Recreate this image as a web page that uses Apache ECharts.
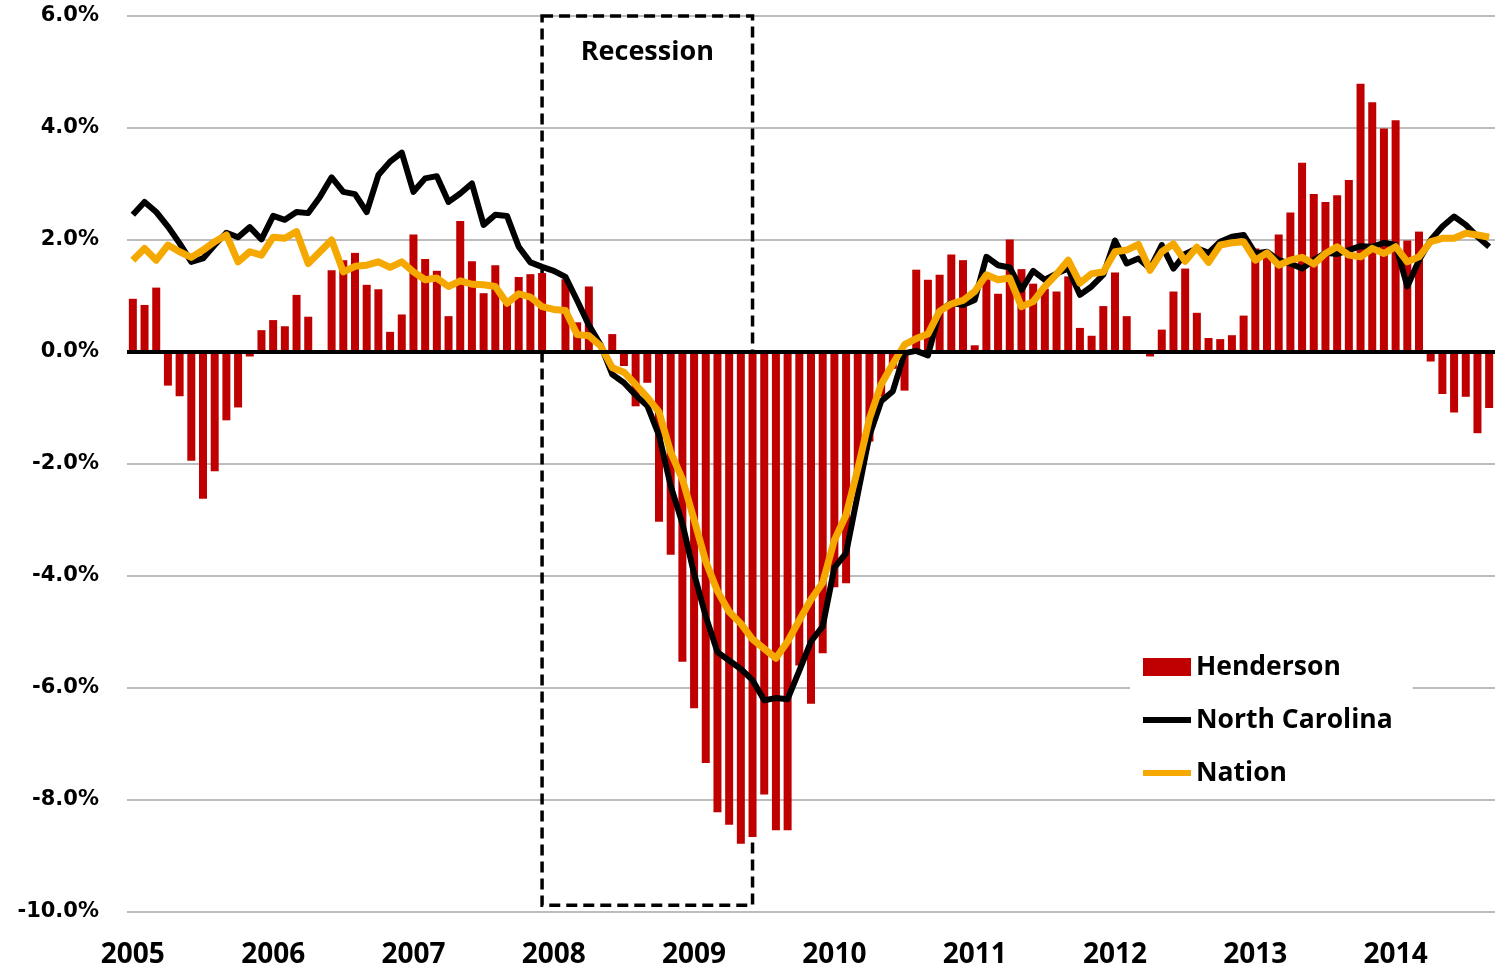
<!DOCTYPE html>
<html>
<head>
<meta charset="utf-8">
<script src="https://cdn.jsdelivr.net/npm/echarts@6/dist/echarts.min.js"></script>
<style>
  html, body { margin: 0; padding: 0; background: #fff; }
  #chart { width: 1495px; height: 973px; }
</style>
</head>
<body>
<div id="chart"></div>
<script>
// year labels on the x axis (one per January)
const years = ['2005', '2006', '2007', '2008', '2009', '2010', '2011', '2012', '2013', '2014'];
const monthCount = 117; // Jan 2005 .. Sep 2014

// monthly categories "YYYY-MM"
const months = [];
for (let i = 0; i < monthCount; i++) {
  const y = years[Math.floor(i / 12)];
  const m = String(i % 12 + 1).padStart(2, '0');
  months.push(y + '-' + m);
}

// recession period (Dec 2007 - Jun 2009)
const recessionStart = '2007-12';
const recessionEnd = '2009-06';

// year-over-year employment growth, %
const henderson = [
  0.95, 0.84, 1.15, -0.6, -0.79, -1.94, -2.62, -2.13, -1.22, -0.99, -0.08, 0.39,
  0.57, 0.46, 1.02, 0.63, 0, 1.46, 1.64, 1.77, 1.2, 1.12, 0.36, 0.67,
  2.10, 1.66, 1.45, 0.64, 2.34, 1.62, 1.05, 1.55, 0.9, 1.34, 1.39, 1.41,
  0, 1.3, 0.53, 1.17, 0, 0.32, -0.25, -0.97, -0.55, -3.03, -3.62, -5.53,
  -6.36, -7.34, -8.22, -8.44, -8.78, -8.66, -7.9, -8.54, -8.54, -5.6, -6.28, -5.38,
  -4.2, -4.13, -2.3, -1.6, -0.8, -0.3, -0.69, 1.47, 1.29, 1.38, 1.74, 1.64,
  0.12, 1.3, 1.04, 2.01, 1.48, 1.22, 1.13, 1.08, 1.35, 0.43, 0.29, 0.82,
  1.42, 0.64, 0, -0.08, 0.4, 1.08, 1.49, 0.7, 0.25, 0.23, 0.30, 0.65,
  1.85, 1.8, 2.10, 2.49, 3.38, 2.82, 2.68, 2.80, 3.07, 4.79, 4.46, 3.99,
  4.14, 1.99, 2.15, -0.17, -0.75, -1.08, -0.8, -1.45, -1.0
];

const northCarolina = [
  2.45, 2.68, 2.5, 2.24, 1.94, 1.61, 1.67, 1.91, 2.13, 2.05, 2.23, 2.01,
  2.43, 2.36, 2.5, 2.48, 2.77, 3.12, 2.86, 2.82, 2.5, 3.16, 3.4, 3.56,
  2.86, 3.1, 3.14, 2.68, 2.83, 3.01, 2.27, 2.45, 2.43, 1.88, 1.6, 1.52,
  1.45, 1.34, 0.92, 0.48, 0.13, -0.4, -0.55, -0.77, -0.96, -1.49, -2.39, -3.06,
  -3.96, -4.72, -5.36, -5.51, -5.66, -5.86, -6.22, -6.18, -6.2, -5.69, -5.17, -4.9,
  -3.85, -3.59, -2.54, -1.49, -0.88, -0.7, -0.02, 0.02, -0.06, 0.73, 0.88, 0.84,
  0.93, 1.7, 1.55, 1.51, 1.11, 1.45, 1.29, 1.4, 1.49, 1.02, 1.17, 1.38,
  1.99, 1.58, 1.67, 1.49, 1.91, 1.49, 1.75, 1.85, 1.77, 1.97, 2.06, 2.09,
  1.76, 1.79, 1.64, 1.58, 1.49, 1.64, 1.77, 1.75, 1.82, 1.89, 1.88, 1.95,
  1.91, 1.17, 1.64, 2.0, 2.24, 2.42, 2.27, 2.06, 1.88
];

const nation = [
  1.64, 1.85, 1.64, 1.91, 1.79, 1.69, 1.82, 1.97, 2.09, 1.61, 1.79, 1.73,
  2.05, 2.03, 2.15, 1.58, 1.79, 2.0, 1.43, 1.53, 1.55, 1.61, 1.51, 1.61,
  1.43, 1.29, 1.32, 1.17, 1.27, 1.21, 1.2, 1.17, 0.87, 1.04, 0.98, 0.81,
  0.76, 0.74, 0.31, 0.29, 0.11, -0.28, -0.36, -0.58, -0.81, -1.07, -1.79, -2.27,
  -2.99, -3.74, -4.27, -4.64, -4.85, -5.13, -5.3, -5.47, -5.17, -4.79, -4.42, -4.12,
  -3.36, -2.91, -2.09, -1.19, -0.58, -0.21, 0.13, 0.24, 0.32, 0.73, 0.86, 0.92,
  1.08, 1.38, 1.29, 1.32, 0.81, 0.9, 1.17, 1.39, 1.64, 1.23, 1.4, 1.43,
  1.79, 1.82, 1.92, 1.46, 1.79, 1.93, 1.62, 1.87, 1.6, 1.91, 1.95, 1.97,
  1.64, 1.77, 1.55, 1.64, 1.69, 1.57, 1.76, 1.88, 1.73, 1.7, 1.85, 1.76,
  1.88, 1.61, 1.7, 1.97, 2.03, 2.03, 2.12, 2.09, 2.05
];

const font = '"Open Sans", "Liberation Sans", sans-serif';
const lineIcon = 'path://M0,0H48V6H0Z';

const chart = echarts.init(document.getElementById('chart'));

chart.setOption({
  backgroundColor: '#fff',
  animation: false,
  grid: { left: 127, right: -5, top: 16, bottom: 61 },
  legend: {
    orient: 'vertical',
    left: 1130,
    top: 644,
    padding: [6, 20, 8, 13],
    backgroundColor: '#fff',
    itemWidth: 48,
    itemHeight: 18,
    itemGap: 19,
    symbolKeepAspect: true,
    textStyle: { fontFamily: font, fontWeight: 'bold', fontSize: 26.5, color: '#000', lineHeight: 34 },
    data: [
      { name: 'Henderson', icon: 'rect' },
      { name: 'North Carolina', icon: lineIcon },
      { name: 'Nation', icon: lineIcon }
    ]
  },
  xAxis: {
    type: 'category',
    data: months,
    boundaryGap: true,
    axisLine: { show: false, onZero: false },
    axisTick: { show: false },
    axisLabel: {
      interval: 11,
      margin: 29,
      fontFamily: font,
      fontWeight: 'bold',
      fontSize: 28,
      color: '#000',
      formatter: v => v.slice(0, 4)
    },
    splitLine: { show: false }
  },
  yAxis: {
    type: 'value',
    min: -10,
    max: 6,
    interval: 2,
    axisLine: { show: false },
    axisTick: { show: false },
    axisLabel: {
      margin: 28,
      fontFamily: '"DejaVu Sans", Verdana, sans-serif',
      fontWeight: 'bold',
      fontSize: 21,
      color: '#000',
      formatter: v => v.toFixed(1) + '%'
    },
    splitLine: { lineStyle: { color: '#A6A6A6', width: 1.5 } }
  },
  series: [
    {
      name: 'Henderson',
      type: 'bar',
      data: henderson,
      barWidth: 8,
      itemStyle: { color: '#C00000' },
      markLine: {
        silent: true,
        symbol: 'none',
        label: { show: false },
        lineStyle: { color: '#000', width: 4, type: 'solid' },
        data: [{ yAxis: 0 }]
      }
    },
    {
      name: 'North Carolina',
      type: 'line',
      data: northCarolina,
      symbol: 'none',
      lineStyle: { color: '#000', width: 6, join: 'round' },
      itemStyle: { color: '#000' },
      markArea: {
        silent: true,
        itemStyle: {
          color: 'rgba(0,0,0,0)',
          borderColor: '#000',
          borderWidth: 3.5,
          borderType: [11, 6]
        },
        label: {
          show: true,
          position: 'insideTop',
          distance: 25,
          fontFamily: font,
          fontWeight: 'bold',
          fontSize: 27,
          color: '#000'
        },
        data: [[
          { name: 'Recession', xAxis: recessionStart, yAxis: 6 },
          { xAxis: recessionEnd, yAxis: -9.88 }
        ]]
      }
    },
    {
      name: 'Nation',
      type: 'line',
      data: nation,
      symbol: 'none',
      lineStyle: { color: '#F5A800', width: 7, join: 'round' },
      itemStyle: { color: '#F5A800' }
    }
  ]
});
</script>
</body>
</html>
